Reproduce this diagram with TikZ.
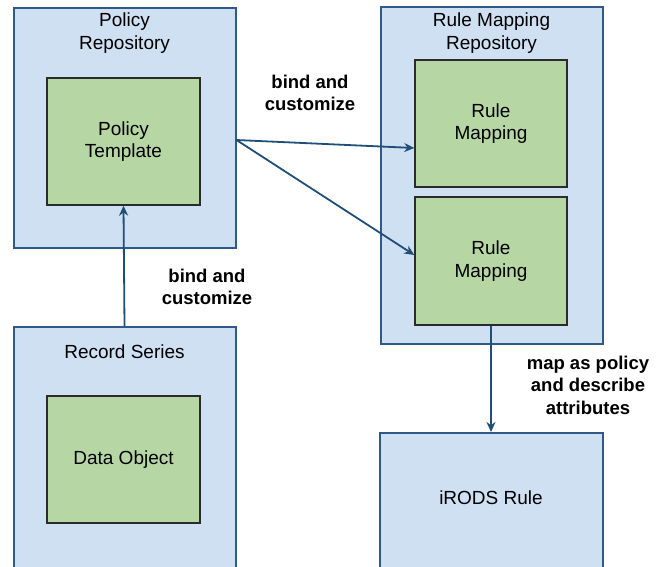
\documentclass[tikz,border=0pt]{standalone}
\usepackage{fontspec}
\setmainfont{Liberation Sans}
\usetikzlibrary{arrows.meta,calc}
\definecolor{outerfill}{HTML}{CFE0F2}
\definecolor{outerline}{HTML}{2F5A88}
\definecolor{innerfill}{HTML}{B6D7A4}
\definecolor{innerline}{HTML}{2B2B2B}
\definecolor{arrowcol}{HTML}{1F4E79}
\tikzset{
  outerbox/.style={draw=outerline, fill=outerfill, line width=2pt, minimum width=#1, inner sep=0pt},
  innerbox/.style={draw=innerline, fill=innerfill, line width=1.4pt, inner sep=0pt,
     minimum width=153pt, align=center, font=\fontsize{19}{22.5}\selectfont},
  titletext/.style={align=center, font=\fontsize{19}{22.5}\selectfont, inner sep=0pt},
  edgelabel/.style={align=center, font=\bfseries\fontsize{18.5}{22.5}\selectfont, inner sep=0pt},
  conn/.style={draw=arrowcol, line width=1.8pt, -{Stealth[length=10pt,width=9pt]}},
}
\begin{document}
\begin{tikzpicture}[x=1pt,y=-1pt]
\useasboundingbox (0,0) rectangle (661,566);
\clip (0,0) rectangle (661,566);
% Policy Repository
\node[outerbox=222pt, minimum height=240pt] (polrepo) at (124.5,127.5) {};
\node[titletext] (poltitle) at (124.5,33) {Policy\\Repository};
\node[innerbox, minimum height=127pt] (template) at (123.5,141.5) {Policy\\Template};
% Record Series
\node[outerbox=222pt, minimum height=250pt] (recser) at (124.5,452) {};
\node[titletext] (rectitle) at (124.5,352) {Record Series};
\node[innerbox, minimum height=127pt] (dataobj) at (123.5,459.5) {Data Object};
% Rule Mapping Repository
\node[outerbox=222pt, minimum height=337pt] (rulerepo) at (491.5,175.5) {};
\node[titletext] (ruletitle) at (491.5,33) {Rule Mapping\\Repository};
\node[innerbox, minimum width=152pt, minimum height=127pt] (rm1) at (491,123.5) {Rule\\Mapping};
\node[innerbox, minimum width=152pt, minimum height=128pt] (rm2) at (491,261) {Rule\\Mapping};
% iRODS Rule
\node[outerbox=223pt, minimum height=145pt] (irods) at (491,505.5) {};
\node[titletext] (irodstext) at (491,498) {iRODS Rule};
% connectors
\coordinate (src) at ($(polrepo.east)+(0,-12.5pt)$);
\draw[conn] (src) -- ($(rm1.west)+(0,-24.5pt)$);
\draw[conn] (src) -- ($(rm2.west)+(0,6pt)$);
\draw[conn] (recser.north) -- (template.south);
\draw[conn, line width=2.6pt] (rm2.south) -- (irods.north);
% labels
\node[edgelabel] (lab1) at (310,93) {bind and\\customize};
\node[edgelabel] (lab2) at (207,287) {bind and\\customize};
\node[edgelabel] (lab3) at (588,385) {map as policy\\and describe\\attributes};
\end{tikzpicture}
\end{document}
